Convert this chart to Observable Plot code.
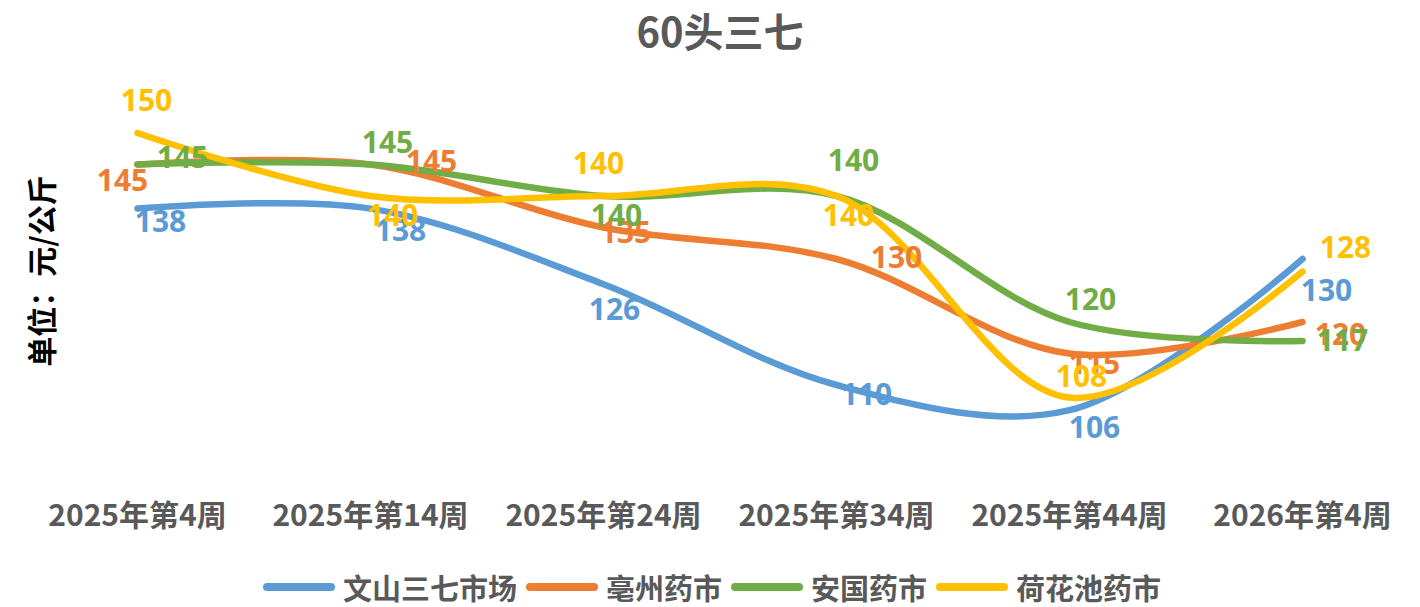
<!DOCTYPE html>
<html><head><meta charset="utf-8">
<script src="https://cdn.jsdelivr.net/npm/d3@7"></script>
<script src="https://cdn.jsdelivr.net/npm/@observablehq/plot@0.6"></script>
<style>
html,body{margin:0;padding:0;background:#fff;}
body{width:1420px;height:607px;overflow:hidden;position:relative;font-family:"Noto Sans CJK SC","Noto Sans",sans-serif;}
#title{position:absolute;left:0;top:0;width:1420px;height:60px;line-height:60px;text-align:center;font-size:40px;font-weight:bold;color:#595959;padding-left:20px;box-sizing:border-box;}
#chart{position:absolute;left:0;top:60px;}
#ylabel{position:absolute;left:40px;top:271px;transform:translate(-50%,-50%) rotate(-90deg);white-space:nowrap;font-size:30px;font-weight:bold;color:#000;}
#legend{position:absolute;left:0;top:566px;width:1420px;height:42px;display:flex;justify-content:center;align-items:center;padding-left:13px;box-sizing:border-box;}
.item{display:flex;align-items:center;margin-right:9px;font-size:29px;font-weight:bold;color:#595959;}
.sw{width:72px;height:8px;border-radius:4px;margin-right:8px;}
</style></head>
<body>
<div id="title">60头三七</div>
<div id="chart"></div>
<div id="ylabel">单位：元/公斤</div>
<div id="legend"></div>
<script>
const weeks = ["2025年第4周","2025年第14周","2025年第24周","2025年第34周","2025年第44周","2026年第4周"];
const seriesNames = ["文山三七市场","亳州药市","安国药市","荷花池药市"];
const wenshan  = [138,138,126,110,106,130];
const bozhou   = [145,145,135,130,115,120];
const anguo    = [145,145,140,140,120,117];
const hehuachi = [150,140,140,140,108,128];
const seriesValues = [wenshan, bozhou, anguo, hehuachi];
const colors = ["#5B9BD5","#ED7D31","#70AD47","#FFC000"];
// label placement (pixel offsets from each point), style only
const labelOffsets = [
  [[23,14],[30,23],[11,26],[30,10],[25,18],[24,32]],
  [[-15,17],[61,-2],[22,6],[60,-1],[25,11],[38,13]],
  [[45,-6],[17,-21],[13,20],[17,-35],[21,-22],[40,0]],
  [[9,-32],[22,20],[-5,-32],[12,20],[12,-20],[43,-23]]
];

const rows = [];
seriesNames.forEach((s, si) => seriesValues[si].forEach((v, i) => rows.push({series: s, si, i, week: weeks[i], value: v})));

const labelMarks = rows.map(r => Plot.text([r], {
  x: "week", y: "value", text: d => String(d.value),
  dx: labelOffsets[r.si][r.i][0], dy: labelOffsets[r.si][r.i][1],
  fill: colors[r.si], fontSize: 30, fontWeight: "bold",
  fontFamily: "'Open Sans','Noto Sans',sans-serif",
  textAnchor: "middle", lineAnchor: "middle"
}));

const chart = Plot.plot({
  width: 1420, height: 490,
  marginLeft: 20.5, marginRight: 1.5, marginTop: 41, marginBottom: 71,
  style: {background: "transparent", overflow: "visible"},
  x: {type: "point", domain: weeks, padding: 0.5},
  y: {domain: [95, 155], axis: null},
  color: {domain: seriesNames, range: colors},
  marks: [
    Plot.line(rows, {x: "week", y: "value", z: "series", stroke: "series", strokeWidth: 6.5,
      curve: "catmull-rom", strokeLinecap: "round", strokeLinejoin: "round"}),
    Plot.axisX({tickSize: 0, tickPadding: 25, fontSize: 30, fontWeight: "bold", fill: "#595959",
      fontFamily: "'Noto Sans CJK SC',sans-serif", label: null}),
    ...labelMarks
  ]
});
document.getElementById("chart").appendChild(chart);

const legend = document.getElementById("legend");
seriesNames.forEach((s, i) => {
  const it = document.createElement("div");
  it.className = "item";
  const sw = document.createElement("div");
  sw.className = "sw"; sw.style.background = colors[i];
  const t = document.createElement("span"); t.textContent = s;
  it.appendChild(sw); it.appendChild(t);
  legend.appendChild(it);
});
</script>
</body></html>
